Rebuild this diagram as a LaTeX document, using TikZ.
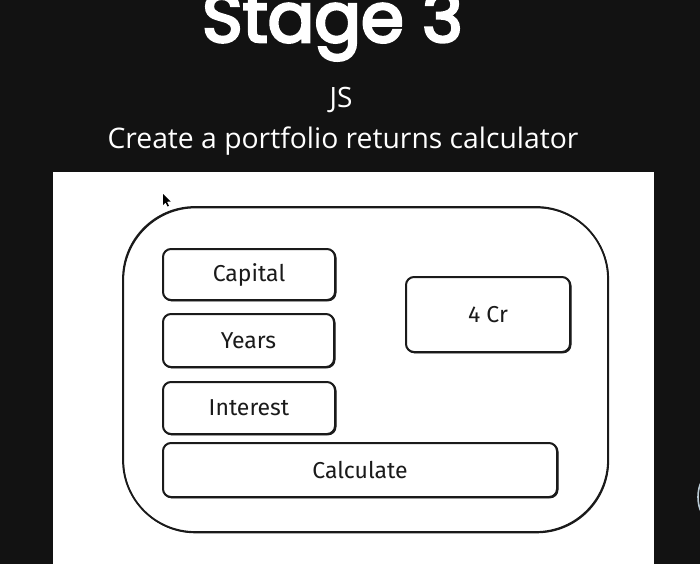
\documentclass[tikz,border=0pt]{standalone}
\usepackage{fontspec}
\newfontfamily\titlefont{Poppins}
\newfontfamily\subfont{Open Sans}
\newfontfamily\handfont{Fira Sans}
\definecolor{bg}{HTML}{121212}
\definecolor{ink}{HTML}{1A1A1A}
\definecolor{glow}{HTML}{B8C8D2}
\tikzset{
  sketch/.style={draw=ink, line width=2pt, fill=white, rounded corners=8pt,
    inner sep=0pt, font=\handfont\fontsize{23}{27}\selectfont, text=ink,
    preaction={draw=ink, line width=1.2pt, transform canvas={shift={(0.9pt,-0.8pt)}}}},
  frame/.style={draw=ink, line width=1.8pt, rounded corners=72pt, inner sep=0pt,
    preaction={draw=ink, line width=1pt, transform canvas={shift={(0.6pt,-0.8pt)}}}},
  heading/.style={text=white, anchor=base, inner sep=0pt}
}
\begin{document}
\begin{tikzpicture}[x=1pt,y=-1pt]
  \useasboundingbox (0,0) rectangle (700,564);
  \fill[bg] (0,0) rectangle (700,564);
  % canvas area
  \fill[white] (53,172) rectangle (654,564);
  % partial bubble at the right edge
  \begin{scope}
    \clip (654,0) rectangle (700,564);
    \draw[glow, line width=1.6pt] (721,497) ellipse [x radius=23pt, y radius=30pt];
  \end{scope}

  % titles
  \node[heading, font=\titlefont\fontsize{69}{80}\selectfont\addfontfeature{FakeBold=4}] (title) at (332.5,42) {Stage 3};
  \node[heading, font=\subfont\fontsize{28}{34}\selectfont] (lang) at (341,108) {JS};
  \node[heading, font=\subfont\fontsize{28.3}{34}\selectfont] (task) at (343,149) {Create a portfolio returns calculator};

  % mouse pointer
  \fill[black] (163,194) -- (163,205) -- (165.5,202.5) -- (167.5,206.5) -- (169,205.8) -- (167,201.8) -- (170.5,201.5) -- cycle;

  % outer card
  \node[frame, minimum width=485pt, minimum height=325pt] (card) at (365.5,369.5) {};

  % inputs and output
  \node[sketch, minimum width=172pt, minimum height=51pt] (capital) at (249,274.5) {Capital};
  \node[sketch, minimum width=171pt, minimum height=53pt] (years) at (248.5,340.5) {Years};
  \node[sketch, minimum width=172pt, minimum height=52pt] (interest) at (249,408) {Interest};
  \node[sketch, minimum width=164pt, minimum height=75pt] (result) at (488,314.5) {4 Cr};
  \node[sketch, minimum width=394pt, minimum height=54pt] (calc) at (360,470) {Calculate};
\end{tikzpicture}
\end{document}
